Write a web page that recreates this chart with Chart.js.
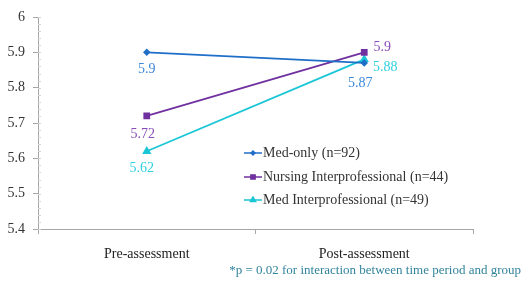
<!DOCTYPE html>
<html>
<head>
<meta charset="utf-8">
<script src="https://cdn.jsdelivr.net/npm/chart.js@4/dist/chart.umd.min.js"></script>
<style>
  html,body{margin:0;padding:0;background:#fff;}
  #wrap{position:relative;width:527px;height:286px;}
</style>
</head>
<body>
<div id="wrap"><canvas id="c" width="527" height="286"></canvas></div>
<script>
const categories = ['Pre-assessment', 'Post-assessment'];
const medOnly = [5.9, 5.87];
const nursingInter = [5.72, 5.9];
const medInter = [5.62, 5.88];
const seriesNames = ['Med-only (n=92)', 'Nursing Interprofessional (n=44)', 'Med Interprofessional (n=49)'];
const yTicks = [5.4, 5.5, 5.6, 5.7, 5.8, 5.9, 6];
const footnote = '*p = 0.02 for interaction between time period and group';

const serif = '"Liberation Serif", "DejaVu Serif", serif';

// label placement per dataset/point: [dx, dy]
const labelPos = [
  [[0, 17], [-4, 20]],
  [[-4, 18], [18, -5]],
  [[-5, 17], [21, 8]]
];
const labelColors = ['#3b87d8', '#8a4db8', '#2fd0e0'];

const valueLabels = {
  id:'valueLabels',
  afterDatasetsDraw(chart){
    const ctx = chart.ctx;
    ctx.save();
    ctx.font = '14px ' + serif;
    ctx.textBaseline = 'middle';
    ctx.textAlign = 'center';
    chart.data.datasets.forEach((ds, i)=>{
      chart.getDatasetMeta(i).data.forEach((pt, j)=>{
        const p = labelPos[i][j];
        ctx.fillStyle = labelColors[i];
        ctx.fillText(String(ds.data[j]), pt.x + p[0], pt.y + p[1]);
      });
    });
    ctx.restore();
  }
};

const boxLegend = {
  id:'boxLegend',
  afterDraw(chart){
    const ctx = chart.ctx;
    ctx.save();
    ctx.font = '14px ' + serif;
    ctx.textBaseline = 'middle';
    ctx.textAlign = 'left';
    const x0 = 244, y0 = 153, gap = 23.5;
    chart.data.datasets.forEach((ds, i)=>{
      const y = Math.round(y0 + i*gap);
      ctx.strokeStyle = ds.borderColor;
      ctx.lineWidth = 1.5;
      ctx.beginPath(); ctx.moveTo(x0, y); ctx.lineTo(x0+18, y); ctx.stroke();
      ctx.fillStyle = ds.backgroundColor;
      Chart.helpers.drawPoint(ctx, {pointStyle: ds.pointStyle, radius: ds.pointRadius - 0.5, rotation:0, borderWidth:1}, x0+9, y);
      ctx.fillStyle = '#333';
      ctx.fillText(ds.label, x0+19, y);
    });
    // footnote
    ctx.font = '13px ' + serif;
    ctx.fillStyle = '#31849b';
    ctx.textAlign = 'right';
    ctx.fillText(footnote, 521, 271);
    ctx.restore();
  }
};

const minorTicks = {
  id:'minorTicks',
  afterDraw(chart){
    const ctx = chart.ctx, y = chart.scales.y;
    ctx.save();
    ctx.strokeStyle = '#d6d6d6';
    ctx.lineWidth = 1;
    for(let v = 5.4; v < 6.0001; v += 0.02){
      const py = Math.round(y.getPixelForValue(v)) + 0.5;
      ctx.beginPath(); ctx.moveTo(y.right, py); ctx.lineTo(y.right+3, py); ctx.stroke();
    }
    ctx.restore();
  }
};

new Chart(document.getElementById('c'), {
  type:'line',
  data:{
    labels: categories,
    datasets:[
      { label: seriesNames[0], data: medOnly, borderColor:'#1f6fc9', backgroundColor:'#1f6fc9',
        pointStyle:'rectRot', pointRadius:2.5, borderWidth:1.8, tension:0 },
      { label: seriesNames[1], data: nursingInter, borderColor:'#7030a0', backgroundColor:'#7030a0',
        pointStyle:'rect', pointRadius:3.5, borderWidth:1.8, tension:0 },
      { label: seriesNames[2], data: medInter, borderColor:'#19c6d6', backgroundColor:'#19c6d6',
        pointStyle:'triangle', pointRadius:3.5, borderWidth:1.8, tension:0 }
    ]
  },
  options:{
    responsive:false,
    animation:false,
    layout:{ padding:{ top:17, right:54, left:0, bottom:0 } },
    plugins:{ legend:{display:false}, tooltip:{enabled:false} },
    scales:{
      y:{
        min:5.4, max:6,
        afterBuildTicks(s){ s.ticks = yTicks.map(v=>({value:v})); },
        afterFit(s){ s.width = 38; },
        border:{ color:'#a6a6a6', width:1 },
        grid:{ drawOnChartArea:false, drawTicks:true, tickLength:5, color:'#a6a6a6' },
        ticks:{ font:{ family:serif, size:14 }, color:'#333', padding:8,
          callback:(v)=>String(Math.round(v*10)/10) }
      },
      x:{
        offset:true,
        afterFit(s){ s.height = 57; },
        border:{ color:'#a6a6a6', width:1 },
        grid:{ offset:true, drawOnChartArea:false, drawTicks:true, tickLength:5, color:'#a6a6a6' },
        ticks:{ font:{ family:serif, size:14 }, color:'#222', padding:12 }
      }
    }
  },
  plugins:[valueLabels, boxLegend, minorTicks]
});
</script>
</body>
</html>
